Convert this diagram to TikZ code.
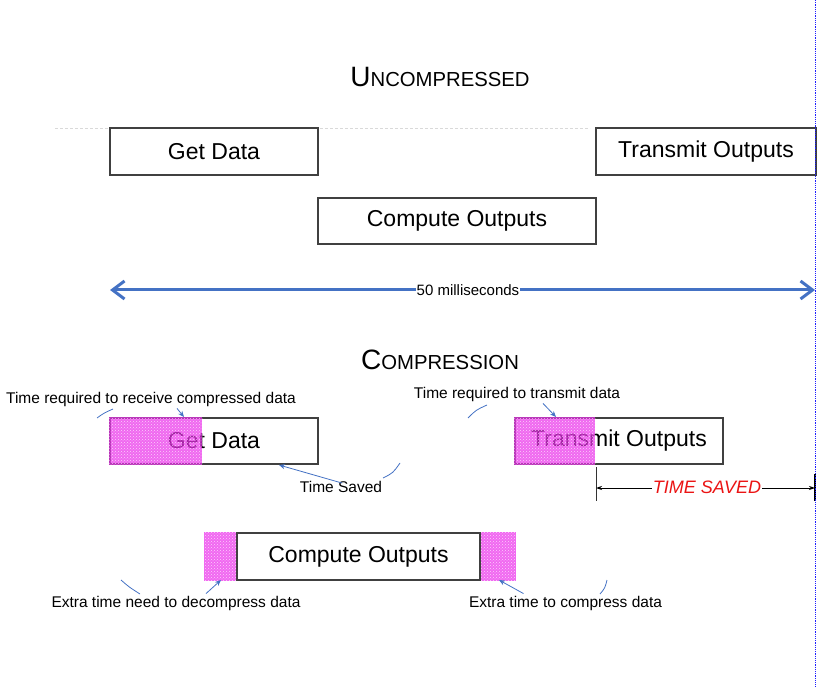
\documentclass[tikz,border=0pt]{standalone}
\usepackage{fontspec}
\setmainfont{Liberation Sans}
\usetikzlibrary{arrows.meta,patterns}
\definecolor{lineblue}{RGB}{68,114,196}
\definecolor{packpink}{RGB}{235,40,235}
\definecolor{savedred}{RGB}{235,20,20}
\definecolor{guideblue}{RGB}{30,30,255}
\begin{document}
\begin{tikzpicture}[x=1pt,y=-1pt,
  stage/.style={draw=black!75, line width=1.1pt, fill=white, inner sep=0pt,
    font=\fontsize{23}{26}\selectfont},
  callout/.style={font=\fontsize{15.5}{18}\selectfont, inner sep=0pt},
  pointer/.style={draw=lineblue, line width=0.8pt, -{Stealth[length=6pt,width=5pt]}},
  leader/.style={draw=lineblue, line width=0.8pt},
  packed/.style={fill=packpink, fill opacity=0.7,
    postaction={fill opacity=0.7, pattern=crosshatch dots, pattern color=white}},
  heading/.style={inner sep=0pt}]
\useasboundingbox (0,0) rectangle (817,687);

% ---------- uncompressed timeline ----------
\node[heading] (t1) at (440,77)
  {\fontsize{28}{30}\selectfont U\fontsize{20.3}{24}\selectfont NCOMPRESSED};
\draw[black!15, densely dashed, line width=0.6pt] (55,128) -- (590,128);

\node[stage, minimum width=208pt, minimum height=47pt] (get1) at (214,151.5) {Get Data};
\node[stage, minimum width=220pt, minimum height=47pt] (tx1) at (706,151.5) {Transmit Outputs};
\node[stage, minimum width=278pt, minimum height=46pt] (cmp1) at (457,221) {Compute Outputs};

\coordinate (msl) at (110,290);
\coordinate (msr) at (815,290);
\draw[lineblue, line width=3pt,
  {Straight Barb[length=12pt,width=18pt]}-{Straight Barb[length=12pt,width=18pt]}]
  (msl) -- (msr);
\node[fill=white, inner sep=1pt, font=\fontsize{15}{18}\selectfont] (ms) at (468,290)
  {50 milliseconds};

% ---------- compressed timeline ----------
\node[heading] (t2) at (440,360)
  {\fontsize{28}{30}\selectfont C\fontsize{20.3}{24}\selectfont OMPRESSION};

\node[stage, minimum width=208pt, minimum height=46pt] (get2) at (214,441) {Get Data};
\fill[packed] (get2.north west) rectangle ([xshift=93pt]get2.south west);

\node[stage, minimum width=208pt, minimum height=46pt] (tx2) at (619,441) {Transmit Outputs};
\fill[packed] (tx2.north west) rectangle ([xshift=81pt]tx2.south west);

\node[stage, minimum width=243pt, minimum height=47pt] (cmp2) at (358.5,556.5) {Compute Outputs};
\fill[packed] ([xshift=-32pt]cmp2.north west) rectangle (cmp2.south west);
\fill[packed] (cmp2.north east) rectangle ([xshift=35pt]cmp2.south east);

% ---------- callouts ----------
\node[callout] (rcv) at (151,399) {Time required to receive compressed data};
\node[callout] (sav) at (341,487) {Time Saved};
\node[callout] (txd) at (517,394) {Time required to transmit data};
\node[callout] (dec) at (176,603) {Extra time need to decompress data};
\node[callout] (cmpx) at (565.5,603) {Extra time to compress data};

\coordinate (rcvtip) at (184,417);
\coordinate (savtip) at (279,465);
\coordinate (txdtip) at (556,417);
\coordinate (dectip) at (221,580);
\coordinate (cmpxtip) at (499,580);

\draw[pointer] ([xshift=26pt,yshift=-2pt]rcv.south) -- (rcvtip);
\draw[pointer] ([xshift=-40pt,yshift=-2pt]sav.north east) -- (savtip);
\draw[pointer] ([xshift=26pt,yshift=-2pt]txd.south) -- (txdtip);
\draw[pointer] ([xshift=30pt,yshift=2pt]dec.north) -- (dectip);
\draw[pointer] ([xshift=-42pt,yshift=2pt]cmpx.north) -- (cmpxtip);

\draw[leader] (97,418) .. controls (104,413) .. (113,409);
\draw[leader] (383,478) .. controls (393,473) .. (400,463);
\draw[leader] (468,418) .. controls (476,410) .. (487,405);
\draw[leader] (121,580) .. controls (129,587) .. (140,594);
\draw[leader] (600,594) .. controls (605,588) .. (607,580);

% ---------- time saved marker ----------
\coordinate (tsl) at (596,488);
\coordinate (tsr) at (815,488);
\draw[black!80, line width=0.9pt] (596,467) -- (596,501);
\draw[black, line width=1.4pt] (815,474) -- (815,501);
\draw[black, line width=0.8pt,
  {Stealth[length=6pt,width=4pt]}-{Stealth[length=6pt,width=4pt]}] (tsl) -- (tsr);
\node[fill=white, inner sep=1pt, text=savedred,
  font=\fontsize{18}{21}\selectfont\itshape] (ts) at (707,487) {TIME SAVED};

% ---------- right margin guide ----------
\draw[guideblue, densely dotted, line width=1.2pt] (815.5,0) -- (815.5,687);
\end{tikzpicture}
\end{document}
